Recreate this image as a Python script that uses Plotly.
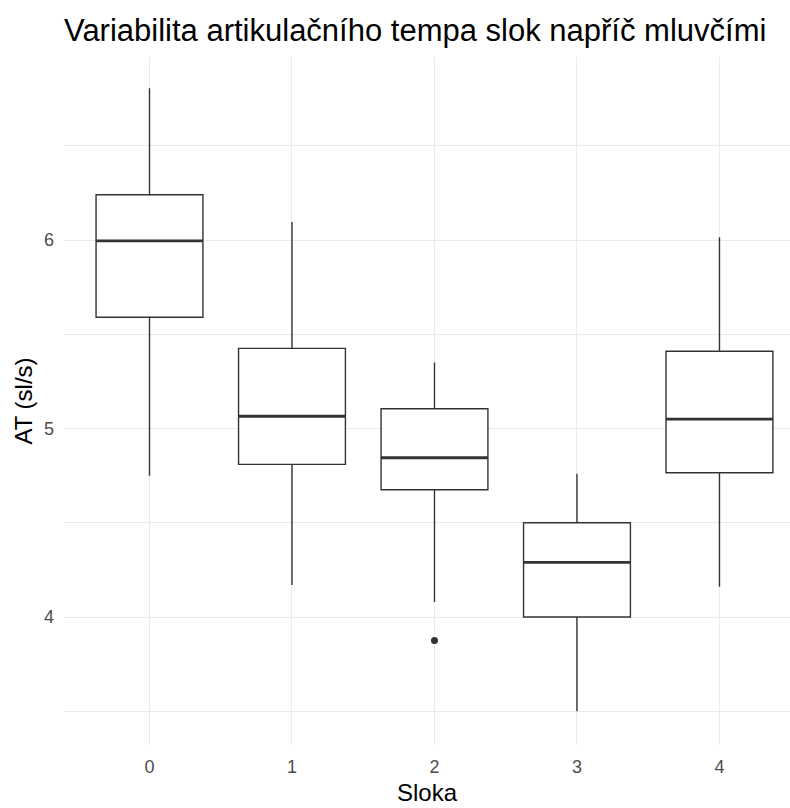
import plotly.graph_objects as go

# Articulation tempo (syllables/s) summary per stanza
stanzas = [0, 1, 2, 3, 4]
lower_whisker = [4.75, 4.17, 4.08, 3.50, 4.16]
q1 = [5.59, 4.81, 4.675, 4.00, 4.765]
median = [5.995, 5.065, 4.845, 4.29, 5.05]
q3 = [6.24, 5.425, 5.105, 4.50, 5.41]
upper_whisker = [6.805, 6.095, 5.35, 4.76, 6.015]
outlier_x = [2]
outlier_y = [3.875]

box_width = 0.75
line_col = "#333333"

fig = go.Figure()

fig.add_trace(go.Box(
    x=stanzas,
    q1=q1,
    median=median,
    q3=q3,
    lowerfence=lower_whisker,
    upperfence=upper_whisker,
    width=box_width,
    whiskerwidth=0,
    fillcolor="white",
    line=dict(color=line_col, width=1.4),
    boxpoints=False,
    showlegend=False,
    hoverinfo="skip",
))

# thicker median bars
for s, m in zip(stanzas, median):
    fig.add_trace(go.Scatter(
        x=[s - box_width / 2, s + box_width / 2],
        y=[m, m],
        mode="lines",
        line=dict(color=line_col, width=2.8),
        showlegend=False,
        hoverinfo="skip",
    ))

fig.add_trace(go.Scatter(
    x=outlier_x,
    y=outlier_y,
    mode="markers",
    marker=dict(color=line_col, size=7),
    showlegend=False,
    hoverinfo="skip",
))

fig.update_layout(
    width=790,
    height=808,
    margin=dict(l=64, r=0, t=57, b=63),
    paper_bgcolor="white",
    plot_bgcolor="white",
    font=dict(family="Liberation Sans, Arial, sans-serif"),
    title=dict(
        text="Variabilita artikulačního tempa slok napříč mluvčími",
        x=0, xref="paper", xanchor="left",
        y=1 - 30 / 808, yref="container", yanchor="middle",
        font=dict(size=31, color="black"),
    ),
    xaxis=dict(
        range=[-0.6, 4.495],
        tickmode="array",
        tickvals=stanzas,
        ticktext=[str(s) for s in stanzas],
        showgrid=True,
        gridcolor="#EBEBEB",
        gridwidth=1.2,
        zeroline=False,
        showline=False,
        ticks="",
        ticklabelstandoff=9,
        tickfont=dict(size=18, color="#4D4D4D"),
        title=dict(text="Sloka", font=dict(size=24, color="black"), standoff=8),
    ),
    yaxis=dict(
        range=[3.321, 6.971],
        tickmode="array",
        tickvals=[4, 5, 6],
        ticktext=["4", "5", "6"],
        showgrid=True,
        gridcolor="#EBEBEB",
        gridwidth=1.2,
        zeroline=False,
        showline=False,
        ticks="",
        ticklabelstandoff=9,
        tickfont=dict(size=18, color="#4D4D4D"),
        minor=dict(tickmode="array", tickvals=[3.5, 4.5, 5.5, 6.5],
                   showgrid=True, gridcolor="#EBEBEB", gridwidth=1),
        title=dict(text="AT (sl/s)", font=dict(size=24, color="black"), standoff=4),
    ),
)

fig.write_html("out.html")
